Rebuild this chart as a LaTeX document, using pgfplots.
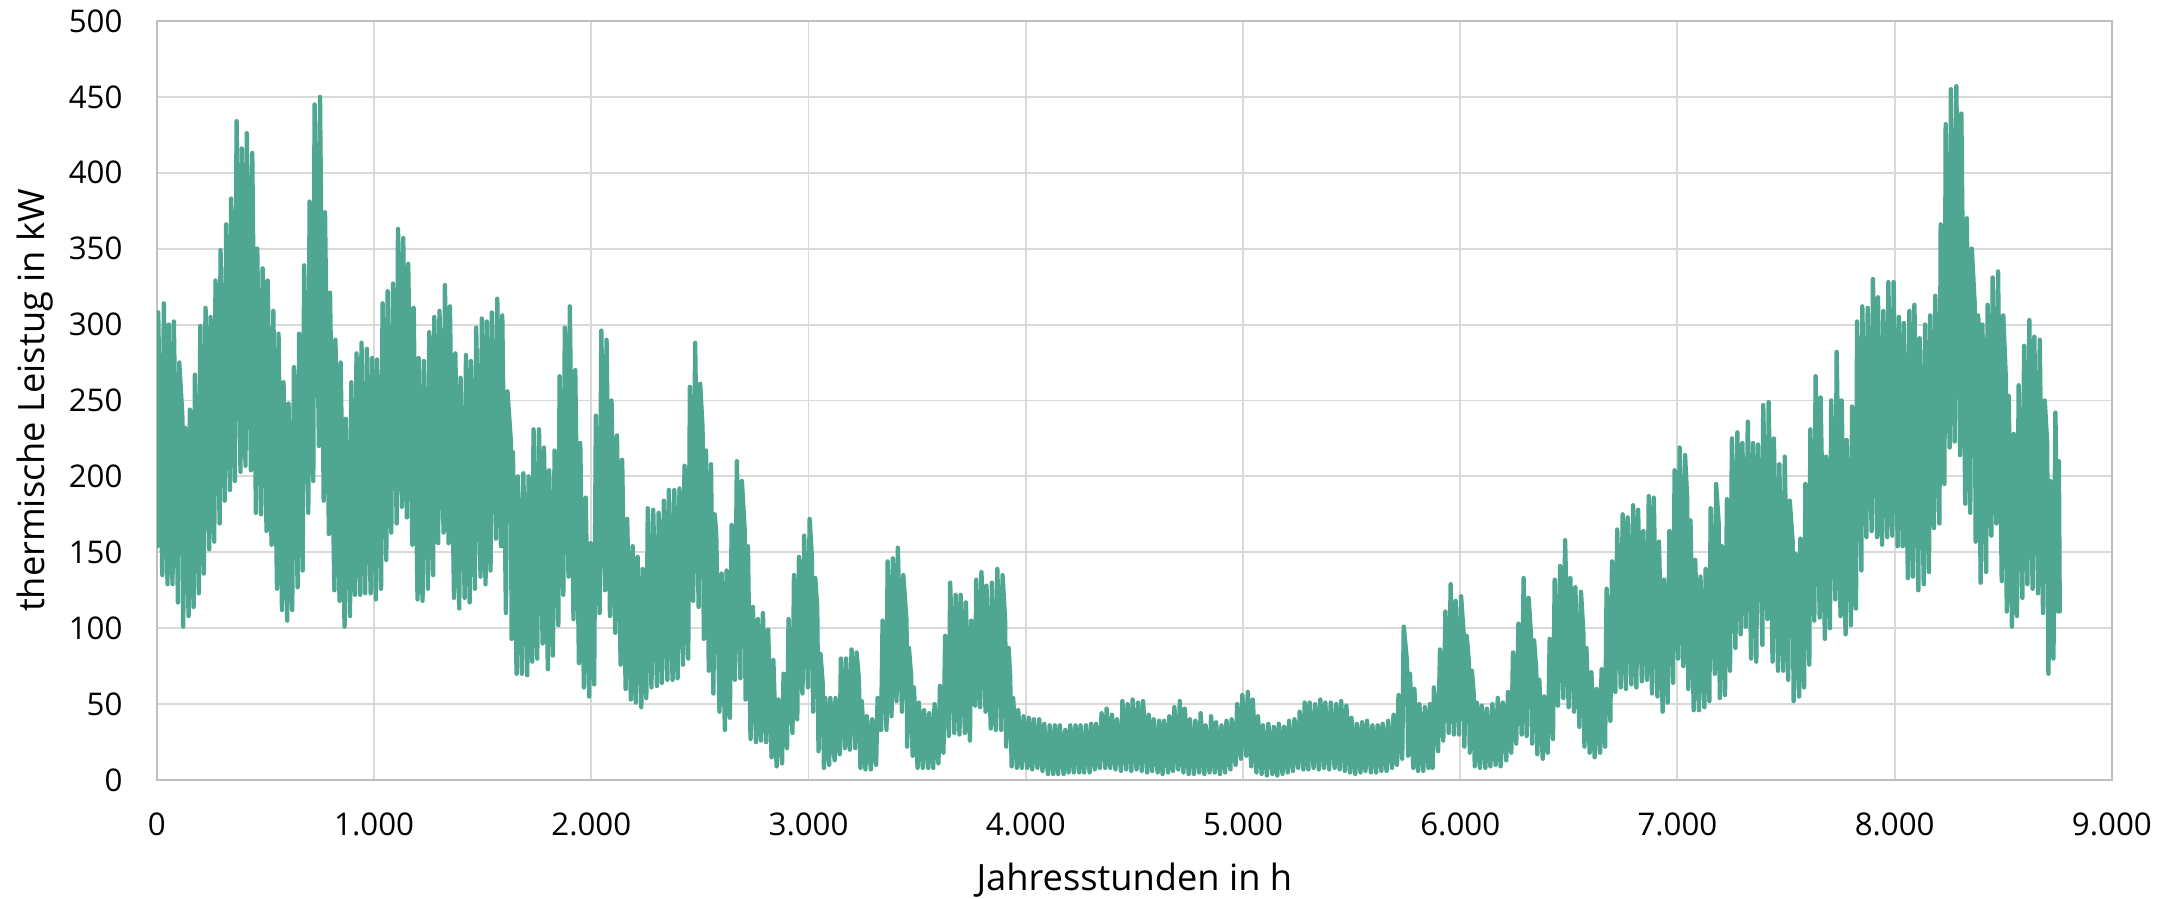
\documentclass[border=0pt]{standalone}
\usepackage{fontspec}
\setmainfont{Open Sans}
\usepackage{pgfplots}
\pgfplotsset{compat=1.18}
\definecolor{linie}{RGB}{79,166,145}
\definecolor{gitter}{RGB}{217,217,217}
\definecolor{achse}{RGB}{191,191,191}
\begin{document}
\begin{tikzpicture}
\begin{axis}[
    at={(0,0)}, anchor=south west,
    scale only axis,
    width=625.6pt, height=242.9pt,
    xmin=0, xmax=9000,
    ymin=0, ymax=500,
    xtick={0,1000,...,9000},
    ytick={0,50,...,500},
    xmajorgrids, ymajorgrids,
    major grid style={draw=gitter, line width=0.6pt},
    axis line style={draw=achse, line width=0.6pt},
    major tick length=0pt,
    tick label style={font=\fontsize{10}{12}\selectfont},
    label style={font=\fontsize{11.6}{14}\selectfont},
    xticklabel style={yshift=-6.9pt},
    yticklabel style={xshift=-7.5pt},
    /pgf/number format/.cd, 1000 sep={.}, assume math mode=true,
    /pgfplots/.cd,
    xlabel={Jahresstunden in h},
    ylabel={thermische Leistug in kW},
    xlabel style={at={(axis description cs:0.5,-0.132)}, anchor=center},
    ylabel style={at={(axis description cs:-0.0624,0.5)}, anchor=center},
]
\addplot[linie, line width=1.4pt, line join=round, line cap=round, mark=none] coordinates {
(0,230) (2,154) (6,308) (25,135) (32,314) (49,129) (55,300) (72,129) (78,302) (97,117) (103,275) (118,238) (121,101) (130,232) (146,108) (152,244) (169,114) (175,267) (193,123) (200,299) (216,136) (224,311) (241,152) (247,305) (264,157) (270,329) (289,169) (293,349) (312,184) (319,366) (336,191) (342,383) (359,197) (367,434) (385,203) (391,416) (408,207) (414,426) (433,204) (439,413) (456,176) (462,350) (480,175) (487,337) (505,164) (510,329) (528,155) (536,309) (553,126) (560,294) (576,112) (583,262) (600,105) (606,248) (623,112) (631,272) (648,127) (655,294) (671,138) (678,339) (697,176) (703,381) (720,197) (726,445) (746,220) (751,450) (768,184) (774,374) (792,162) (797,321) (817,125) (822,290) (841,118) (846,275) (864,101) (870,238) (889,108) (895,262) (912,122) (919,281) (936,122) (942,288) (959,123) (967,284) (984,123) (991,278) (1008,119) (1014,277) (1032,126) (1039,314) (1056,145) (1062,322) (1079,163) (1087,327) (1104,169) (1110,363) (1128,180) (1134,357) (1151,173) (1157,340) (1176,155) (1182,311) (1200,119) (1205,278) (1223,118) (1229,276) (1248,126) (1254,295) (1272,135) (1277,305) (1295,156) (1301,309) (1320,163) (1326,326) (1343,156) (1349,312) (1368,120) (1374,281) (1392,113) (1398,265) (1417,120) (1423,280) (1440,117) (1446,276) (1464,126) (1470,298)
(1490,134) (1496,304) (1513,129) (1519,302) (1536,138) (1542,308) (1561,159) (1567,317) (1584,154) (1590,306) (1607,110) (1614,256) (1630,222) (1633,93) (1639,216) (1656,70) (1662,200) (1680,70) (1687,202) (1705,69) (1711,200) (1728,78) (1734,231) (1751,80) (1759,231) (1776,90) (1782,219) (1800,73) (1806,204) (1823,82) (1831,217) (1848,102) (1854,266) (1871,122) (1878,298) (1895,134) (1901,312) (1918,106) (1926,270) (1943,77) (1949,222) (1966,61) (1974,186) (1990,55) (1997,156) (2013,63) (2021,240) (2038,110) (2046,296) (2063,125) (2070,290) (2086,108) (2093,250) (2110,97) (2118,227) (2135,76) (2142,211) (2158,60) (2165,172) (2182,53) (2190,154) (2205,51) (2213,147) (2230,48) (2237,139) (2253,54) (2260,179) (2277,61) (2285,178) (2302,62) (2310,176) (2325,64) (2334,184) (2350,66) (2357,191) (2374,66) (2382,191) (2397,67) (2406,192) (2422,76) (2429,207) (2446,80) (2454,259) (2469,118) (2478,288) (2494,114) (2501,261) (2512,232) (2518,93) (2528,217) (2541,72) (2551,208) (2562,57) (2568,175) (2575,162) (2590,45) (2600,136) (2615,33) (2623,138) (2638,41) (2646,168) (2661,66) (2670,210) (2686,67) (2693,197) (2706,165) (2710,53) (2721,154) (2733,27) (2744,114) (2758,25) (2767,106) (2781,26) (2790,110) (2805,25) (2814,99) (2830,15) (2838,79) (2853,9) (2861,53) (2878,11) (2885,70) (2901,21) (2908,106) (2926,31) (2933,135) (2948,40) (2956,147)
(2972,57) (2980,161) (2997,61) (3005,172) (3015,148) (3021,45) (3031,133) (3040,113) (3046,19) (3055,83) (3065,64) (3071,8) (3077,54) (3095,10) (3100,54) (3120,13) (3124,54) (3143,17) (3149,80) (3167,21) (3173,80) (3190,20) (3198,86) (3215,21) (3221,84) (3232,66) (3239,8) (3245,52) (3262,7) (3268,42) (3287,7) (3293,40) (3311,10) (3318,54) (3334,33) (3341,105) (3359,33) (3364,144) (3382,42) (3388,146) (3405,52) (3411,153) (3430,45) (3436,135) (3451,105) (3454,22) (3462,87) (3472,69) (3479,16) (3485,61) (3502,8) (3508,51) (3526,8) (3532,46) (3551,8) (3556,44) (3574,8) (3580,50) (3598,11) (3605,62) (3621,18) (3629,95) (3646,29) (3652,130) (3671,31) (3677,122) (3695,30) (3700,122) (3720,31) (3724,117) (3743,26) (3749,105) (3767,49) (3772,132) (3790,48) (3796,137) (3815,45) (3819,128) (3839,34) (3844,130) (3862,33) (3869,139) (3887,33) (3893,135) (3905,105) (3910,22) (3921,87) (3928,69) (3935,9) (3942,54) (3959,8) (3965,46) (3982,8) (3990,42) (4007,8) (4014,41) (4030,7) (4037,40) (4054,8) (4062,40) (4077,6) (4085,37) (4102,4) (4110,36) (4126,4) (4134,36) (4149,4) (4157,36) (4174,4) (4182,33) (4197,5) (4205,36) (4221,5) (4229,36) (4246,5) (4252,36) (4269,5) (4277,36) (4294,5) (4301,37) (4318,7) (4324,37) (4341,8) (4349,44) (4366,8) (4372,47) (4389,8) (4397,43) (4413,7) (4420,40)
(4438,6) (4445,52) (4462,7) (4469,50) (4486,6) (4492,53) (4510,7) (4517,51) (4534,6) (4540,52) (4559,5) (4566,43) (4582,6) (4589,40) (4607,5) (4614,39) (4630,4) (4637,39) (4655,5) (4661,42) (4678,6) (4684,48) (4702,7) (4709,52) (4726,5) (4732,47) (4750,4) (4756,40) (4774,4) (4781,39) (4798,5) (4805,44) (4822,4) (4828,36) (4846,5) (4853,42) (4870,5) (4876,38) (4894,4) (4901,36) (4918,5) (4924,39) (4942,7) (4948,40) (4966,10) (4973,50) (4990,14) (4997,56) (5015,16) (5022,58) (5038,9) (5045,53) (5062,5) (5069,42) (5086,4) (5092,36) (5110,3) (5117,37) (5135,4) (5142,35) (5158,3) (5165,37) (5182,4) (5189,35) (5206,5) (5212,39) (5230,6) (5237,40) (5254,8) (5261,45) (5278,7) (5284,51) (5301,7) (5307,51) (5325,8) (5332,50) (5349,7) (5356,53) (5373,8) (5379,51) (5397,7) (5404,51) (5422,8) (5429,50) (5445,7) (5452,52) (5469,6) (5476,49) (5493,5) (5499,41) (5517,4) (5524,37) (5541,5) (5548,38) (5564,6) (5571,39) (5589,5) (5596,36) (5613,5) (5620,36) (5637,6) (5643,37) (5661,6) (5668,39) (5686,8) (5693,43) (5709,10) (5716,56) (5733,14) (5740,101) (5755,78) (5760,16) (5769,70) (5784,8) (5789,60) (5806,6) (5812,50) (5830,6) (5837,48) (5854,8) (5860,50) (5873,8) (5879,61)
(5898,19) (5907,86) (5922,26) (5932,111) (5947,31) (5956,129) (5971,30) (5979,118) (5995,30) (6004,121) (6016,96) (6019,22) (6030,95) (6040,77) (6044,18) (6054,72) (6062,57) (6067,9) (6076,51) (6091,8) (6099,49) (6116,8) (6123,47) (6139,9) (6148,50) (6163,10) (6173,54) (6186,9) (6196,51) (6212,13) (6220,58) (6235,18) (6243,84) (6258,24) (6268,103) (6283,30) (6292,133) (6306,29) (6315,120) (6326,95) (6331,24) (6340,92) (6350,73) (6355,17) (6364,66) (6380,14) (6387,55) (6403,18) (6412,93) (6427,27) (6435,132) (6450,49) (6460,141) (6475,54) (6483,158) (6499,48) (6507,133) (6524,45) (6530,127) (6549,35) (6556,124) (6567,97) (6572,22) (6581,87) (6596,18) (6604,71) (6619,15) (6628,60) (6644,18) (6651,73) (6667,22) (6674,126) (6691,39) (6699,144) (6714,58) (6723,165) (6739,61) (6748,175) (6763,60) (6771,173) (6788,63) (6796,181) (6811,61) (6819,178) (6836,65) (6843,164) (6860,66) (6868,187) (6883,57) (6891,186) (6908,55) (6915,157) (6932,45) (6938,132) (6955,51) (6963,164) (6980,64) (6987,204) (7003,80) (7010,219) (7027,75) (7035,214) (7045,185) (7050,60) (7060,171) (7075,46) (7082,145) (7099,46) (7106,134) (7124,48) (7130,139) (7147,52) (7153,179) (7172,70) (7178,195) (7190,169) (7195,54) (7205,154) (7219,56) (7228,185) (7242,72) (7251,225) (7267,87) (7276,229) (7291,96) (7299,222) (7314,101) (7324,236) (7339,80) (7348,222) (7363,78) (7371,221)
(7391,89) (7395,247) (7414,106) (7420,249) (7438,78) (7444,225) (7463,72) (7469,208) (7487,72) (7494,213) (7510,66) (7517,184) (7530,158) (7535,52) (7544,149) (7560,55) (7566,159) (7583,61) (7589,195) (7607,76) (7612,231) (7630,105) (7636,266) (7655,107) (7659,252) (7679,93) (7684,213) (7702,100) (7708,250) (7727,119) (7733,282) (7751,108) (7756,250) (7774,96) (7779,224) (7799,102) (7804,246) (7822,113) (7827,302) (7847,138) (7851,312) (7870,160) (7876,311) (7894,164) (7900,330) (7919,160) (7923,318) (7942,155) (7948,309) (7966,160) (7971,328) (7989,161) (7995,328) (8014,154) (8020,305) (8037,154) (8043,301) (8061,133) (8068,309) (8084,134) (8091,313) (8109,125) (8115,291) (8134,129) (8140,300) (8158,137) (8163,306) (8181,166) (8187,319) (8206,169) (8212,366) (8229,195) (8235,432) (8253,219) (8259,455) (8276,223) (8284,457) (8301,214) (8307,439) (8325,182) (8332,370) (8348,176) (8355,350) (8368,315) (8373,157) (8385,306) (8396,130) (8404,300) (8421,137) (8428,313) (8445,161) (8451,331) (8468,169) (8476,335) (8493,131) (8500,306) (8512,264) (8516,111) (8525,253) (8540,101) (8548,228) (8563,108) (8571,260) (8588,120) (8596,286) (8611,129) (8620,303) (8635,126) (8643,292) (8660,123) (8668,290) (8683,110) (8691,250) (8702,222) (8708,70) (8716,197) (8731,80) (8740,242) (8752,111) (8756,210) (8760,111)
};
\end{axis}
\pgfresetboundingbox
\path (-50.2pt,-37.8pt) rectangle (647.4pt,249.6pt);
\end{tikzpicture}
\end{document}
